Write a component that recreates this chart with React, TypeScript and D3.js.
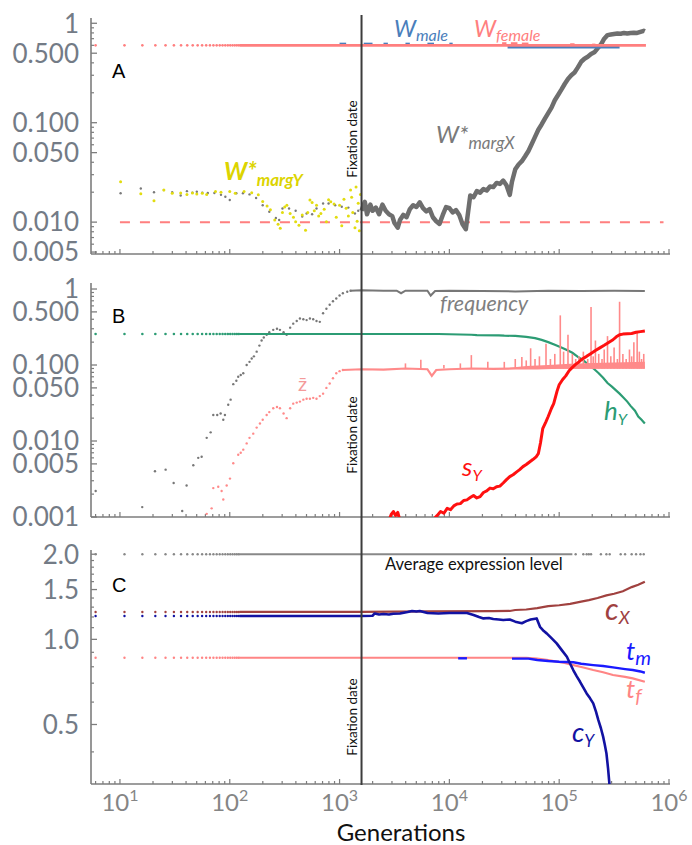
import React from 'react';
import * as d3 from 'd3';

// ---------- DATA (x values are log10(generation)) ----------
const earlyGens = [6, 11, 16, 21, 26, 31, 36, 41, 46, 51, 56, 61, 66, 71, 76, 81, 86, 91, 96, 101, 106, 111, 116, 121];
const xTickPowers = [1, 2, 3, 4, 5, 6];
const fixationLg = 3.2;

// Panel A
const aTicks = [1, 0.5, 0.1, 0.05, 0.01, 0.005];
const aTickLabels = ['1', '0.500', '0.100', '0.050', '0.010', '0.005'];
const wFemaleLevel = 0.6;
const wFemaleLine: [number, number][] = [[2.09, 0.6], [5.79, 0.6]];
const wFemaleAbove: [number, number][][] = [
  [[4.48, 0.63], [4.52, 0.63]], [[4.56, 0.63], [4.62, 0.63]], [[4.66, 0.625], [4.72, 0.625]], [[5.1, 0.615], [5.14, 0.615]], [[5.3, 0.61], [5.33, 0.61]],
];
const wMaleSegs: [number, number][][] = [
  [[3.0, 0.62], [3.06, 0.62]], [[3.22, 0.62], [3.3, 0.62]], [[3.4, 0.62], [3.44, 0.62]],
  [[3.6, 0.62], [3.64, 0.62]], [[3.8, 0.62], [3.86, 0.62]], [[4.0, 0.62], [4.03, 0.62]],
  [[4.53, 0.575], [5.55, 0.575]],
];
const threshold = 0.01;
const thresholdRange = [1.0, 5.95];
const wMargYPts: [number, number][] = [
  [1.006, 0.0255], [1.19, 0.0193], [1.31, 0.0164], [1.40, 0.0211], [1.476, 0.0195], [1.553, 0.0196], [1.61, 0.019],
  [1.66, 0.0196], [1.70, 0.0192], [1.75, 0.0195], [1.79, 0.019], [1.87, 0.0203], [1.92, 0.02], [2.0, 0.0203],
  [2.05, 0.0195], [2.13, 0.0203], [2.2, 0.0198], [2.26, 0.0188], [2.3, 0.0161], [2.34, 0.0145], [2.37, 0.0133],
  [2.41, 0.0105], [2.44, 0.0095], [2.46, 0.0087], [2.48, 0.0125], [2.5, 0.0142], [2.52, 0.0148], [2.55, 0.0122],
  [2.58, 0.0112], [2.6, 0.0101], [2.63, 0.0093], [2.66, 0.0118], [2.69, 0.0083], [2.71, 0.0125], [2.73, 0.0167],
  [2.75, 0.0158], [2.77, 0.013], [2.79, 0.0148], [2.81, 0.0115], [2.83, 0.0122], [2.86, 0.0135], [2.88, 0.0101],
  [2.9, 0.0168], [2.92, 0.016], [2.95, 0.0152], [2.97, 0.0112], [3.0, 0.0148], [3.02, 0.0092], [3.04, 0.017],
  [3.06, 0.0138], [3.08, 0.0115], [3.1, 0.021], [3.11, 0.0178], [3.12, 0.0125], [3.14, 0.0088], [3.15, 0.0225],
  [3.16, 0.0102], [3.17, 0.0155], [3.18, 0.0082], [3.19, 0.019],
];
const wMargXEarly: [number, number][] = [
  [1.006, 0.0195], [1.19, 0.0218], [1.31, 0.02], [1.40, 0.021], [1.476, 0.02], [1.553, 0.0185], [1.61, 0.0205],
  [1.66, 0.0198], [1.70, 0.0202], [1.75, 0.0198], [1.8, 0.0196], [1.86, 0.0196], [1.92, 0.0188], [1.96, 0.018],
  [2.0, 0.0167], [2.06, 0.0195], [2.12, 0.0195], [2.18, 0.019], [2.24, 0.0175], [2.3, 0.0148], [2.36, 0.0127],
  [2.42, 0.011], [2.45, 0.0105], [2.48, 0.0137], [2.54, 0.0137], [2.6, 0.013], [2.66, 0.0114], [2.7, 0.0122],
  [2.75, 0.012], [2.79, 0.0137], [2.85, 0.0154], [2.9, 0.0154], [2.96, 0.0148], [3.02, 0.0143], [3.08, 0.014],
  [3.14, 0.0122], [3.17, 0.013],
];
const wMargXLine: [number, number][] = [
  [3.2, 0.013], [3.23, 0.016], [3.25, 0.012], [3.28, 0.015], [3.3, 0.013], [3.33, 0.014], [3.36, 0.012], [3.39, 0.015],
  [3.42, 0.013], [3.45, 0.012], [3.48, 0.0115], [3.5, 0.0098], [3.53, 0.0088], [3.55, 0.0105], [3.58, 0.0118],
  [3.61, 0.0112], [3.64, 0.0135], [3.67, 0.0148], [3.7, 0.0142], [3.73, 0.0158], [3.76, 0.0138], [3.79, 0.0128],
  [3.82, 0.0135], [3.85, 0.0112], [3.88, 0.0102], [3.91, 0.0096], [3.94, 0.0118], [3.97, 0.0142], [4.0, 0.0138],
  [4.03, 0.0125], [4.06, 0.0132], [4.09, 0.0118], [4.12, 0.0095], [4.15, 0.0085], [4.17, 0.0125], [4.19, 0.0185],
  [4.22, 0.0178], [4.25, 0.0205], [4.28, 0.0198], [4.31, 0.0215], [4.34, 0.0208], [4.37, 0.0228], [4.4, 0.0225],
  [4.43, 0.0248], [4.46, 0.0242], [4.49, 0.0262], [4.52, 0.0235], [4.55, 0.0188], [4.57, 0.0255], [4.6, 0.034],
  [4.63, 0.038], [4.66, 0.041], [4.69, 0.046], [4.72, 0.052], [4.75, 0.061], [4.78, 0.072], [4.81, 0.085],
  [4.84, 0.096], [4.87, 0.11], [4.9, 0.125], [4.93, 0.142], [4.96, 0.168], [4.99, 0.19], [5.02, 0.215],
  [5.05, 0.245], [5.08, 0.275], [5.11, 0.3], [5.14, 0.32], [5.17, 0.36], [5.2, 0.41], [5.23, 0.44], [5.26, 0.46],
  [5.29, 0.49], [5.32, 0.51], [5.35, 0.56], [5.38, 0.61], [5.41, 0.7], [5.44, 0.76], [5.47, 0.77], [5.5, 0.78],
  [5.53, 0.79], [5.56, 0.785], [5.59, 0.8], [5.62, 0.79], [5.65, 0.8], [5.68, 0.805], [5.71, 0.8], [5.74, 0.82],
  [5.77, 0.84], [5.78, 0.83],
];

// Panel B
const bTicks = [1, 0.5, 0.1, 0.05, 0.01, 0.005, 0.001];
const bTickLabels = ['1', '0.500', '0.100', '0.050', '0.010', '0.005', '0.001'];
const hYLevel = 0.256;
const hYLine: [number, number][] = [
  [2.09, 0.256], [3.2, 0.256], [3.9, 0.256], [4.2, 0.25], [4.25, 0.248], [4.45, 0.245], [4.5, 0.243], [4.6, 0.242],
  [4.7, 0.235], [4.78, 0.226], [4.84, 0.214], [4.9, 0.2], [4.96, 0.185], [5.02, 0.17], [5.08, 0.155], [5.12, 0.145],
  [5.17, 0.128], [5.22, 0.115], [5.27, 0.1], [5.32, 0.088], [5.36, 0.078], [5.4, 0.068], [5.44, 0.058], [5.48, 0.052],
  [5.52, 0.046], [5.55, 0.042], [5.58, 0.038], [5.62, 0.033], [5.65, 0.029], [5.69, 0.025], [5.72, 0.021],
  [5.75, 0.019], [5.78, 0.017],
];
const freqDots: [number, number][] = [
  [0.779, 0.0022], [1.203, 0.00135], [1.319, 0.004], [1.416, 0.0042], [1.489, 0.0028], [1.567, 0.0012], [1.607, 0.0026],
  [1.668, 0.0048], [1.713, 0.006], [1.744, 0.0062], [1.79, 0.011], [1.826, 0.013], [1.85, 0.022], [1.886, 0.022],
  [1.917, 0.023], [1.941, 0.019], [1.956, 0.022], [1.986, 0.03], [2.008, 0.035], [2.032, 0.056], [2.06, 0.062],
  [2.077, 0.07], [2.1, 0.074], [2.123, 0.078], [2.154, 0.1], [2.18, 0.11], [2.2, 0.122], [2.22, 0.13], [2.245, 0.15],
  [2.27, 0.18], [2.29, 0.21], [2.31, 0.23], [2.336, 0.25], [2.36, 0.27], [2.396, 0.29], [2.43, 0.3], [2.457, 0.29],
  [2.49, 0.27], [2.518, 0.25], [2.55, 0.31], [2.578, 0.35], [2.61, 0.38], [2.639, 0.41], [2.67, 0.4], [2.7, 0.39],
  [2.73, 0.41], [2.76, 0.4], [2.79, 0.38], [2.82, 0.37], [2.85, 0.48], [2.88, 0.55], [2.91, 0.62], [2.94, 0.69],
  [2.97, 0.75], [3.0, 0.82], [3.03, 0.88], [3.07, 0.92], [3.1, 0.95],
];
const freqLine: [number, number][] = [
  [3.1, 0.95], [3.2, 0.96], [3.4, 0.95], [3.52, 0.95], [3.56, 0.88], [3.6, 0.95], [3.8, 0.95], [3.83, 0.82],
  [3.87, 0.94], [4.0, 0.95], [4.3, 0.94], [4.6, 0.93], [4.9, 0.95], [5.2, 0.94], [5.5, 0.95], [5.78, 0.94],
];
const zbarDots: [number, number][] = [
  [1.79, 0.0011], [1.835, 0.0013], [1.85, 0.0024], [1.895, 0.0025], [1.926, 0.0022], [1.941, 0.0017], [1.972, 0.0026],
  [2.002, 0.0032], [2.032, 0.0051], [2.077, 0.0066], [2.1, 0.007], [2.123, 0.0077], [2.154, 0.0093], [2.18, 0.011],
  [2.214, 0.0125], [2.245, 0.015], [2.275, 0.017], [2.3, 0.019], [2.336, 0.022], [2.36, 0.024], [2.396, 0.027],
  [2.43, 0.028], [2.457, 0.027], [2.49, 0.023], [2.518, 0.02], [2.55, 0.027], [2.578, 0.031], [2.61, 0.032],
  [2.639, 0.033], [2.67, 0.035], [2.7, 0.036], [2.73, 0.036], [2.76, 0.037], [2.79, 0.036], [2.82, 0.039],
  [2.85, 0.042], [2.88, 0.05], [2.91, 0.057], [2.94, 0.067], [2.97, 0.078], [3.0, 0.083], [3.03, 0.086],
];
const zbarLine: [number, number][] = [
  [3.03, 0.086], [3.2, 0.088], [3.4, 0.087], [3.6, 0.09], [3.8, 0.088], [3.84, 0.072], [3.88, 0.086], [4.0, 0.088],
  [4.2, 0.09], [4.4, 0.089], [4.6, 0.09], [4.8, 0.09], [5.0, 0.092], [5.2, 0.092], [5.4, 0.093], [5.6, 0.093],
  [5.78, 0.093],
];
const zbarBandTop: [number, number][] = [
  [4.55, 0.092], [4.7, 0.097], [4.9, 0.1], [5.1, 0.104], [5.3, 0.106], [5.5, 0.108], [5.78, 0.11],
];
const zbarSpikes: [number, number][] = [
  [3.6, 0.105], [3.74, 0.117], [3.95, 0.1], [4.1, 0.105], [4.2, 0.135], [4.35, 0.11], [4.5, 0.11], [4.6, 0.12],
  [4.66, 0.127], [4.7, 0.115], [4.74, 0.166], [4.78, 0.12], [4.82, 0.13], [4.88, 0.19], [4.92, 0.12], [4.96, 0.14],
  [5.01, 0.45], [5.04, 0.15], [5.08, 0.25], [5.12, 0.14], [5.15, 0.12], [5.18, 0.13], [5.22, 0.15], [5.26, 0.12],
  [5.29, 0.58], [5.31, 0.13], [5.33, 0.21], [5.36, 0.14], [5.39, 0.12], [5.41, 0.16], [5.44, 0.24], [5.47, 0.13],
  [5.5, 0.17], [5.53, 0.12], [5.55, 0.68], [5.58, 0.14], [5.61, 0.12], [5.64, 0.16], [5.66, 0.13], [5.68, 0.2],
  [5.71, 0.27], [5.73, 0.15], [5.75, 0.12], [5.77, 0.14],
];
const sYLine: [number, number][] = [
  [3.45, 0.0009], [3.47, 0.00108], [3.49, 0.00118], [3.51, 0.00105], [3.53, 0.00115], [3.55, 0.0009], [3.6, 0.0007],
  [3.8, 0.0007], [3.86, 0.00095], [3.89, 0.00105], [3.92, 0.00118], [3.95, 0.00112], [3.98, 0.0013], [4.01, 0.00125],
  [4.04, 0.0014], [4.07, 0.00148], [4.1, 0.0015], [4.13, 0.00165], [4.16, 0.00168], [4.19, 0.0018], [4.22, 0.00192],
  [4.25, 0.00178], [4.28, 0.00185], [4.31, 0.0021], [4.34, 0.0022], [4.37, 0.0024], [4.4, 0.00235], [4.43, 0.0025],
  [4.46, 0.00255], [4.49, 0.0028], [4.52, 0.0031], [4.55, 0.0034], [4.58, 0.0036], [4.61, 0.0039], [4.64, 0.0042],
  [4.67, 0.0046], [4.7, 0.0049], [4.73, 0.0053], [4.76, 0.0057], [4.79, 0.0062], [4.81, 0.0068], [4.83, 0.0095],
  [4.85, 0.0145], [4.88, 0.018], [4.9, 0.021], [4.93, 0.027], [4.95, 0.031], [4.98, 0.045], [5.0, 0.055],
  [5.03, 0.064], [5.06, 0.072], [5.09, 0.084], [5.12, 0.093], [5.15, 0.102], [5.18, 0.11], [5.21, 0.12], [5.25, 0.13],
  [5.29, 0.142], [5.33, 0.155], [5.37, 0.168], [5.41, 0.182], [5.45, 0.198], [5.49, 0.215], [5.52, 0.235],
  [5.55, 0.25], [5.58, 0.255], [5.62, 0.258], [5.66, 0.26], [5.7, 0.27], [5.74, 0.275], [5.78, 0.28],
];

// Panel C
const cTicks = [2.0, 1.5, 1.0, 0.5];
const cTickLabels = ['2.0', '1.5', '1.0', '0.5'];
const cMinorTicks = [0.4, 0.6, 0.7, 0.8, 0.9, 1.1, 1.2, 1.3, 1.4, 1.6, 1.7, 1.8, 1.9];
const avgLevel = 2.0;
const cXLevel = 1.25;
const cYLevel = 1.21;
const tLevel = 0.861;
const avgLine: [number, number][] = [[2.09, 2.0], [5.12, 2.0]];
const avgLateDots: [number, number][] = [
  [5.15, 2.0], [5.22, 2.0], [5.25, 2.0], [5.27, 2.0], [5.29, 2.0], [5.38, 2.0], [5.43, 2.0], [5.46, 2.0],
  [5.56, 2.0], [5.6, 2.0], [5.66, 2.0], [5.7, 2.0], [5.74, 2.0], [5.77, 2.0],
];
const cXLine: [number, number][] = [
  [2.09, 1.25], [3.2, 1.25], [3.8, 1.255], [4.4, 1.258], [4.55, 1.26], [4.6, 1.27], [4.7, 1.275], [4.8, 1.29],
  [4.9, 1.31], [5.0, 1.32], [5.1, 1.335], [5.2, 1.36], [5.27, 1.377], [5.35, 1.4], [5.43, 1.43], [5.5, 1.45],
  [5.58, 1.48], [5.66, 1.53], [5.72, 1.56], [5.78, 1.6],
];
const cYLine: [number, number][] = [
  [2.09, 1.21], [3.2, 1.21], [3.3, 1.212], [3.32, 1.235], [3.36, 1.225], [3.4, 1.23], [3.45, 1.225], [3.49, 1.232],
  [3.55, 1.235], [3.62, 1.25], [3.66, 1.26], [3.7, 1.255], [3.73, 1.26], [3.8, 1.24], [3.9, 1.235], [4.0, 1.24],
  [4.1, 1.24], [4.16, 1.24], [4.22, 1.22], [4.27, 1.2], [4.31, 1.186], [4.36, 1.19], [4.4, 1.18], [4.45, 1.175],
  [4.49, 1.17], [4.55, 1.175], [4.6, 1.155], [4.66, 1.14], [4.7, 1.16], [4.74, 1.175], [4.795, 1.186], [4.825, 1.108],
  [4.86, 1.07], [4.886, 1.05], [4.93, 1.01], [4.977, 0.968], [5.02, 0.92], [5.07, 0.868], [5.1, 0.82], [5.128, 0.779],
  [5.16, 0.74], [5.19, 0.708], [5.22, 0.675], [5.25, 0.644], [5.28, 0.62], [5.31, 0.594], [5.335, 0.555],
  [5.356, 0.519], [5.38, 0.485], [5.4, 0.453], [5.415, 0.425], [5.43, 0.396], [5.445, 0.35], [5.46, 0.3],
];
const tMBlip: [number, number][] = [[4.08, 0.857], [4.16, 0.857]];
const tMLine: [number, number][] = [
  [4.57, 0.855], [4.72, 0.855], [4.8, 0.845], [4.9, 0.838], [5.0, 0.833], [5.13, 0.83], [5.2, 0.82], [5.31, 0.811],
  [5.4, 0.805], [5.49, 0.796], [5.6, 0.785], [5.67, 0.779], [5.74, 0.77], [5.78, 0.762],
];
const tFLine: [number, number][] = [
  [2.09, 0.861], [4.7, 0.861], [4.8, 0.855], [4.9, 0.845], [4.95, 0.838], [5.05, 0.825], [5.13, 0.811], [5.22, 0.795],
  [5.31, 0.779], [5.4, 0.765], [5.49, 0.748], [5.6, 0.737], [5.67, 0.728], [5.78, 0.708],
];

// ---------- LAYOUT ----------
const X0 = 91, X1 = 669;
const x = d3.scaleLog().domain([5.45, 1e6]).range([X0, X1]);
const G = (lg: number) => Math.pow(10, lg);
const FONT = 'Lato, "Open Sans", sans-serif';
const AXIS = '#7d7d7d';
const TICKTXT = '#737b86';

const yA = d3.scaleLog().domain([0.00478, 1.13]).range([254, 18]);
const yB = d3.scaleLog().domain([0.001, 1.2]).range([517, 283]);
const yC = d3.scaleLog().domain([0.308, 2.07]).range([784, 550]);

const C = {
  pink: '#ff7f7f', male: '#4a7ebb', gray: '#6e6e6e', yellow: '#e2dc10', green: '#2c9c74', red: '#ff1010',
  zbar: '#ff8a8a', brown: '#a0413f', dblue: '#1212a2', blue: '#1a1aff', tf: '#ff8585',
};

function pathOf(y: d3.ScaleLogarithmic<number, number>, pts: [number, number][]) {
  return d3.line<[number, number]>().x(d => x(G(d[0]))).y(d => y(d[1]))(pts) || '';
}

function Axes({ y, top, bottom, majors, labels, minors, xLabels }: any) {
  const xt = x.ticks();
  return (
    <g>
      <line x1={X0} x2={X0} y1={top} y2={bottom} stroke={AXIS} strokeWidth={1.6} />
      <line x1={X0} x2={X1 + 1} y1={bottom} y2={bottom} stroke={AXIS} strokeWidth={1.6} />
      {xt.map((v, i) => {
        const major = Math.abs(Math.log10(v) - Math.round(Math.log10(v))) < 1e-9;
        return <line key={'xt' + i} x1={x(v)} x2={x(v)} y1={bottom} y2={bottom - (major ? 5 : 3)} stroke={AXIS} strokeWidth={1.2} />;
      })}
      {minors.map((v: number, i: number) => (
        <line key={'ym' + i} x1={X0} x2={X0 + 3} y1={y(v)} y2={y(v)} stroke={AXIS} strokeWidth={1.2} />
      ))}
      {majors.map((v: number, i: number) => (
        <g key={'yM' + i}>
          <line x1={X0} x2={X0 + 6} y1={y(v)} y2={y(v)} stroke={AXIS} strokeWidth={1.3} />
          <text x={79} y={y(v)} dy="0.36em" textAnchor="end" fontFamily={FONT} fontSize={26} fill={TICKTXT}>{labels[i]}</text>
        </g>
      ))}
      {xLabels && xTickPowers.map(p => (
        <text key={'xl' + p} x={x(G(p))} y={811} textAnchor="middle" fontFamily={FONT} fontSize={24} fill="#858585">
          10<tspan fontSize={16} dy={-10}>{p}</tspan>
        </text>
      ))}
    </g>
  );
}

function logMinors(y: d3.ScaleLogarithmic<number, number>, majors: number[]) {
  return y.ticks().filter(v => !majors.some(m => Math.abs(m - v) / m < 1e-6));
}

function Dots({ y, pts, color, r = 1.3 }: any) {
  return <g>{pts.map((d: [number, number], i: number) => <circle key={i} cx={x(G(d[0]))} cy={y(d[1])} r={r} fill={color} />)}</g>;
}

function Label({ x: lx, y: ly, main, sub, color, size, subSize, dy, bold }: any) {
  return (
    <text x={lx} y={ly} fill={color} fontFamily={FONT} fontStyle="italic" fontWeight={bold ? 700 : 400} fontSize={size}>
      {main}<tspan fontSize={subSize} dy={dy}>{sub}</tspan>
    </text>
  );
}

function FixText({ cy }: { cy: number }) {
  return (
    <text transform={`translate(357,${cy}) rotate(-90)`} textAnchor="middle" fontFamily={FONT} fontSize={13.5} fill="#111">Fixation date</text>
  );
}

export default function App() {
  const earlyLg = earlyGens.map(g => Math.log10(g));
  const mk = (v: number) => earlyLg.map(l => [l, v] as [number, number]);
  const fx = x(G(fixationLg));
  const bandArea = d3.area<[number, number]>()
    .x(d => x(G(d[0])))
    .y0(() => yB(0.089))
    .y1(d => yB(d[1]))(zbarBandTop) || '';
  return (
    <svg width={692} height={845} style={{ display: 'block', position: 'absolute', left: 0, top: 0 }}>
      <rect width={692} height={845} fill="#fff" />
      <defs>
        <clipPath id="cA"><rect x={X0} y={14} width={X1 - X0} height={240} /></clipPath>
        <clipPath id="cB"><rect x={X0} y={280} width={X1 - X0} height={237} /></clipPath>
        <clipPath id="cC"><rect x={X0} y={548} width={X1 - X0} height={236} /></clipPath>
      </defs>

      {/* Panel A */}
      <Axes y={yA} top={18} bottom={254} majors={aTicks} labels={aTickLabels} minors={logMinors(yA, aTicks)} xLabels={false} />
      <g clipPath="url(#cA)">
        <line x1={x(G(thresholdRange[0]))} x2={x(G(thresholdRange[1]))} y1={yA(threshold)} y2={yA(threshold)} stroke={C.pink} strokeWidth={2} strokeDasharray="10,10" />
        <Dots y={yA} pts={wMargXEarly} color="#7a7a7a" r={1.2} />
        <Dots y={yA} pts={wMargYPts} color={C.yellow} r={1.5} />
        <path d={pathOf(yA, wMargXLine)} fill="none" stroke={C.gray} strokeWidth={4.5} strokeLinejoin="round" />
        {wMaleSegs.map((s, i) => <path key={i} d={pathOf(yA, s)} fill="none" stroke={C.male} strokeWidth={2.5} />)}
        {wFemaleAbove.map((s, i) => <path key={i} d={pathOf(yA, s)} fill="none" stroke={C.pink} strokeWidth={2} />)}
        <Dots y={yA} pts={mk(wFemaleLevel)} color={C.pink} r={1.3} />
        <path d={pathOf(yA, wFemaleLine)} fill="none" stroke={C.pink} strokeWidth={2.6} />
      </g>
      <text x={112} y={78} fontFamily='"Liberation Sans", Arial, sans-serif' fontSize={20}>A</text>
      <Label x={394} y={37} main="W" sub="male" color={C.male} size={23} subSize={16} dy={4} />
      <Label x={474} y={37} main="W" sub="female" color={C.pink} size={23} subSize={16} dy={4} />
      <Label x={436} y={143} main="W*" sub="margX" color="#7a7a7a" size={24} subSize={17} dy={6} />
      <Label x={224} y={180} main="W*" sub="margY" color="#dcd400" size={24} subSize={17} dy={6} bold />
      <FixText cy={139} />

      {/* Panel B */}
      <Axes y={yB} top={283} bottom={517} majors={bTicks} labels={bTickLabels} minors={logMinors(yB, bTicks)} xLabels={false} />
      <g clipPath="url(#cB)">
        <Dots y={yB} pts={freqDots} color="#777" r={1.2} />
        <path d={pathOf(yB, freqLine)} fill="none" stroke="#777" strokeWidth={2} />
        <Dots y={yB} pts={mk(hYLevel)} color={C.green} r={1.3} />
        <path d={pathOf(yB, hYLine)} fill="none" stroke={C.green} strokeWidth={2.2} />
        <Dots y={yB} pts={zbarDots} color={C.zbar} r={1.2} />
        {zbarSpikes.map((d, i) => (
          <line key={i} x1={x(G(d[0]))} x2={x(G(d[0]))} y1={yB(0.09)} y2={yB(d[1])} stroke={C.zbar} strokeWidth={1.6} />
        ))}
        <path d={bandArea} fill={C.zbar} />
        <path d={pathOf(yB, zbarLine)} fill="none" stroke={C.zbar} strokeWidth={2.2} />
        <path d={pathOf(yB, sYLine)} fill="none" stroke={C.red} strokeWidth={3} strokeLinejoin="round" />
      </g>
      <text x={112} y={323} fontFamily='"Liberation Sans", Arial, sans-serif' fontSize={20}>B</text>
      <text x={440} y={311} fontFamily={FONT} fontStyle="italic" fontSize={21.5} fill="#7f7f7f">frequency</text>
      <Label x={604} y={420} main="h" sub="Y" color={C.green} size={26} subSize={16} dy={5} />
      <Label x={462} y={476} main="s" sub="Y" color={C.red} size={26} subSize={16} dy={5} />
      <text x={298} y={391} fontFamily={FONT} fontSize={20} fill="#f49a9a">z̄</text>
      <FixText cy={435} />

      {/* Panel C */}
      <Axes y={yC} top={550} bottom={784} majors={cTicks} labels={cTickLabels} minors={cMinorTicks} xLabels={true} />
      <g clipPath="url(#cC)">
        <Dots y={yC} pts={mk(avgLevel)} color="#888" r={1.2} />
        <path d={pathOf(yC, avgLine)} fill="none" stroke="#888" strokeWidth={2} />
        <Dots y={yC} pts={avgLateDots} color="#888" r={1.2} />
        <Dots y={yC} pts={mk(cXLevel)} color={C.brown} r={1.2} />
        <Dots y={yC} pts={mk(cYLevel)} color={C.dblue} r={1.2} />
        <Dots y={yC} pts={mk(tLevel)} color={C.tf} r={1.2} />
        <path d={pathOf(yC, cXLine)} fill="none" stroke={C.brown} strokeWidth={2.2} />
        <path d={pathOf(yC, tFLine)} fill="none" stroke={C.tf} strokeWidth={2.2} />
        <path d={pathOf(yC, tMBlip)} fill="none" stroke={C.blue} strokeWidth={2.4} />
        <path d={pathOf(yC, tMLine)} fill="none" stroke={C.blue} strokeWidth={2.4} />
        <path d={pathOf(yC, cYLine)} fill="none" stroke={C.dblue} strokeWidth={2.6} strokeLinejoin="round" />
      </g>
      <text x={112} y={592} fontFamily='"Liberation Sans", Arial, sans-serif' fontSize={20}>C</text>
      <text x={385} y={570} fontFamily={FONT} fontSize={16.5} fill="#111">Average expression level</text>
      <Label x={605} y={620} main="c" sub="X" color={C.brown} size={30} subSize={18} dy={4} />
      <Label x={626} y={660} main="t" sub="m" color={C.blue} size={26} subSize={20} dy={5} />
      <Label x={626} y={698} main="t" sub="f" color={C.tf} size={26} subSize={20} dy={5} />
      <Label x={572} y={742} main="c" sub="Y" color={C.dblue} size={27} subSize={17} dy={5} />
      <FixText cy={717} />

      {/* Fixation date line */}
      <line x1={fx} x2={fx} y1={15} y2={785} stroke="#3c3c3c" strokeWidth={2} />

      <text x={401} y={841} textAnchor="middle" fontFamily={FONT} fontSize={24} fill="#111">Generations</text>
    </svg>
  );
}
